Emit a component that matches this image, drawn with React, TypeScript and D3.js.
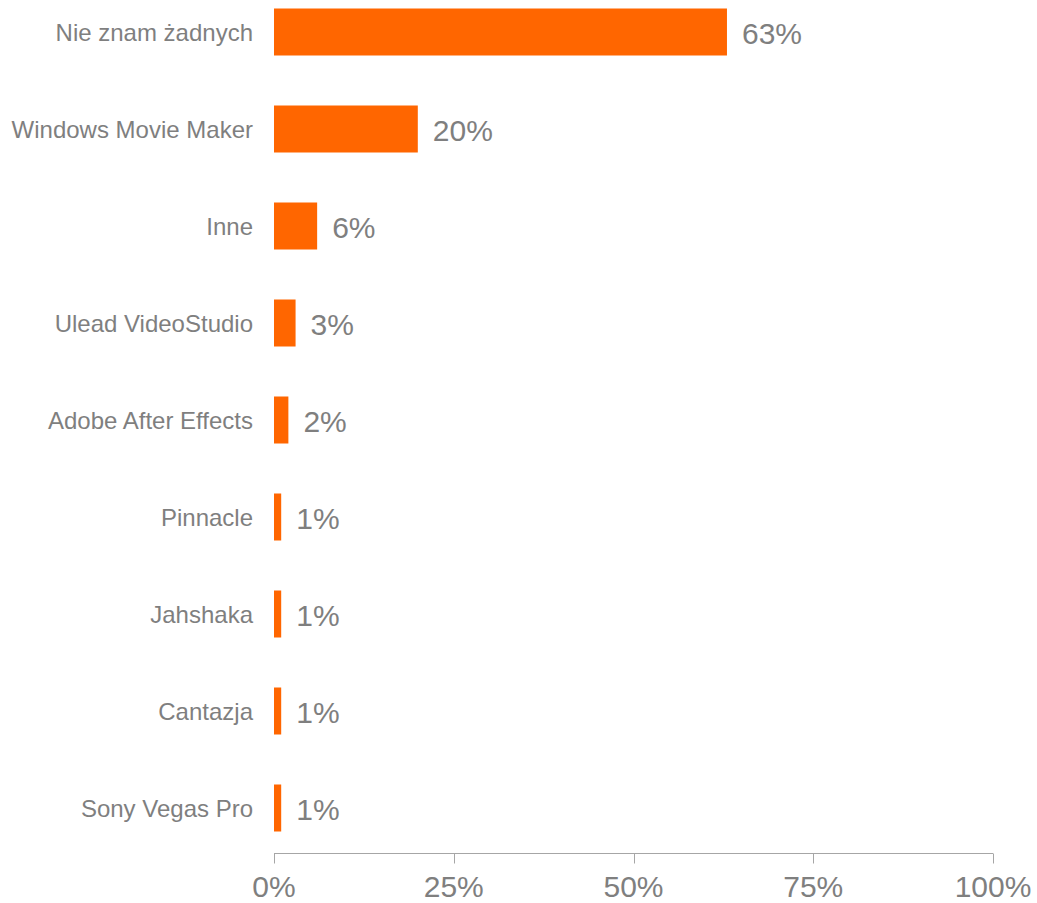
import React from "react";
import * as d3 from "d3";

const categories = [
  "Nie znam żadnych",
  "Windows Movie Maker",
  "Inne",
  "Ulead VideoStudio",
  "Adobe After Effects",
  "Pinnacle",
  "Jahshaka",
  "Cantazja",
  "Sony Vegas Pro",
];
const values = [63, 20, 6, 3, 2, 1, 1, 1, 1];
const ticks = [0, 25, 50, 75, 100];

const W = 1037;
const H = 903;
const FONT = "'Liberation Sans', Arial, sans-serif";
const BAR = "#FF6600";
const TEXT = "#7f7f7f";
const AXIS = "#a6a6a6";

export default function App() {
  const x = d3.scaleLinear().domain([0, 100]).range([274, 993]);
  const y = d3.scalePoint<string>().domain(categories).range([32, 808]);
  const barH = 47;
  const axisY = 853.5;

  return (
    <svg
      width={W}
      height={H}
      style={{ position: "absolute", left: 0, top: 0, background: "#fff" }}
      fontFamily={FONT}
    >
      {categories.map((c, i) => {
        const cy = y(c)!;
        return (
          <g key={c}>
            <rect
              x={x(0)}
              y={cy - barH / 2}
              width={x(values[i]) - x(0)}
              height={barH}
              fill={BAR}
            />
            <text
              x={253}
              y={cy}
              dy="0.36em"
              textAnchor="end"
              fontSize={24}
              fill={TEXT}
            >
              {c}
            </text>
            <text
              x={x(values[i]) + 15}
              y={cy}
              dy="0.4em"
              fontSize={30}
              fill={TEXT}
            >
              {values[i]}%
            </text>
          </g>
        );
      })}
      <line x1={x(0)} x2={x(100)} y1={axisY} y2={axisY} stroke={AXIS} strokeWidth={1} />
      {ticks.map((t) => (
        <g key={t}>
          <line
            x1={Math.round(x(t)) + 0.5}
            x2={Math.round(x(t)) + 0.5}
            y1={axisY}
            y2={axisY + 10}
            stroke={AXIS}
            strokeWidth={1}
          />
          <text x={x(t)} y={897} textAnchor="middle" fontSize={30} fill={TEXT}>
            {t}%
          </text>
        </g>
      ))}
    </svg>
  );
}
